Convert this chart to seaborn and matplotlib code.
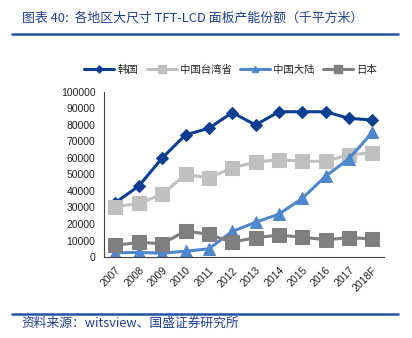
import matplotlib
matplotlib.use("Agg")
import matplotlib.pyplot as plt
import seaborn as sns
import pandas as pd
from matplotlib.lines import Line2D

years = ["2007", "2008", "2009", "2010", "2011", "2012", "2013", "2014", "2015", "2016", "2017", "2018F"]
korea = [33000, 43000, 60000, 74000, 78000, 87500, 80000, 88000, 88000, 88000, 84000, 83000]
taiwan = [30500, 32500, 38000, 50000, 48000, 54000, 57500, 59000, 58000, 58000, 62000, 63000]
mainland = [2600, 2800, 2300, 3500, 5000, 15500, 21000, 26000, 35500, 49000, 59500, 75500]
japan = [7000, 9000, 8000, 15800, 13700, 9000, 11700, 13300, 12000, 10500, 11700, 11000]

series_names = ["韩国", "中国台湾省", "中国大陆", "日本"]
series_vals = [korea, taiwan, mainland, japan]
colors = ["#0b3d91", "#c0c0c0", "#4f86cc", "#7f7f7f"]
markers = ["D", "s", "^", "s"]
msizes = [6.5, 9.5, 8.5, 9.5]

sns.set_style("white")
plt.rcParams['font.family'] = ['Liberation Sans', 'Noto Sans CJK SC', 'DejaVu Sans']

rows = []
for name, vals in zip(series_names, series_vals):
    for i, v in enumerate(vals):
        rows.append({"pos": i, "year": years[i], "series": name, "value": v})
df = pd.DataFrame(rows)

fig = plt.figure(figsize=(4.12, 3.38), dpi=100)
ax = fig.add_axes([0.252, 0.2396, 0.680, 0.4884])

for name, c, m, ms in zip(series_names, colors, markers, msizes):
    sub = df[df["series"] == name]
    sns.lineplot(data=sub, x="pos", y="value", ax=ax, color=c, marker=m,
                 markersize=ms, markeredgecolor=c, linewidth=2.2, legend=False)

ax.set_xlim(-0.5, len(years) - 0.5)
ax.set_ylim(0, 100000)
ax.set_yticks(range(0, 100001, 10000))
ax.set_yticklabels([str(v) for v in range(0, 100001, 10000)], fontsize=7.5, color="#222222")
ax.set_xticks(range(len(years)))
ax.set_xticklabels(years, rotation=45, fontsize=7.5, color="#222222", ha="right", va="top",
                   rotation_mode="anchor")
ax.tick_params(axis="x", length=0, pad=6)
ax.set_xticks([i - 0.5 for i in range(len(years) + 1)], minor=True)
ax.tick_params(axis="x", which="minor", direction="in", length=3, color="#444444", width=0.8)
ax.tick_params(axis="y", direction="out", length=3, color="#444444", width=0.8, pad=3)
ax.set_xlabel("")
ax.set_ylabel("")
for s in ["top", "right"]:
    ax.spines[s].set_visible(False)
for s in ["left", "bottom"]:
    ax.spines[s].set_color("#444444")
    ax.spines[s].set_linewidth(0.8)

handles = [Line2D([0], [0], color=c, marker=m, markersize=ms * 0.55, linewidth=2.2, markeredgecolor=c)
           for c, m, ms in zip(colors, markers, msizes)]
fig.legend(handles, series_names, loc="center", bbox_to_anchor=(0.56, 0.793), ncol=4,
           frameon=False, handlelength=2.9, handletextpad=0.3, columnspacing=0.8,
           prop={'family': ['Noto Sans CJK SC'], 'size': 7.5})

title_color = "#1f3f8f"
fig.text(0.053, 0.947, "图表 40:  各地区大尺寸 TFT-LCD 面板产能份额（千平方米）", fontsize=9.3,
         color=title_color, ha="left", va="center", style="italic",
         family=['Noto Sans CJK SC', 'DejaVu Sans'])
fig.add_artist(Line2D([0.03, 0.966], [0.899, 0.899], color="#2255a4", linewidth=1.8, transform=fig.transFigure))
fig.add_artist(Line2D([0.03, 0.966], [0.071, 0.071], color="#2255a4", linewidth=1.8, transform=fig.transFigure))
fig.text(0.053, 0.044, "资料来源：witsview、国盛证券研究所", fontsize=9.2,
         color=title_color, ha="left", va="center", style="italic",
         family=['Noto Sans CJK SC', 'DejaVu Sans'])

fig.savefig("out.png", dpi=100)
